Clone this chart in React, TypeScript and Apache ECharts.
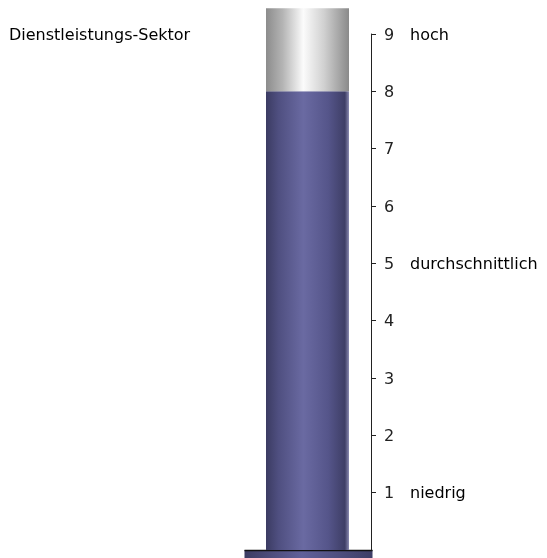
import React, { useEffect, useRef } from "react";
import * as echarts from "echarts";

const categories = ["Dienstleistungs-Sektor"];
const values = [8];
const tubeTop = [9.45];
const axisMin = 0;
const axisMax = 9;
const tickInterval = 1;
const tickValues = [1, 2, 3, 4, 5, 6, 7, 8, 9];
const levelValues = [1, 5, 9];
const levelLabels: Record<number, string> = { 1: "niedrig", 5: "durchschnittlich", 9: "hoch" };

const FONT = "DejaVu Sans";

export default function App() {
  const ref = useRef<HTMLDivElement>(null);
  useEffect(() => {
    if (!ref.current) return;
    const chart = echarts.init(ref.current, undefined, { renderer: "svg" });
    const blue = new echarts.graphic.LinearGradient(0, 0, 1, 0, [
      { offset: 0, color: "#3b3b62" },
      { offset: 0.15, color: "#4f4f80" },
      { offset: 0.45, color: "#6a6aa2" },
      { offset: 0.75, color: "#55558a" },
      { offset: 0.95, color: "#3e3e66" },
      { offset: 1, color: "#8a8ab0" },
    ]);
    const gray = new echarts.graphic.LinearGradient(0, 0, 1, 0, [
      { offset: 0, color: "#8c8c8c" },
      { offset: 0.2, color: "#b4b4b4" },
      { offset: 0.45, color: "#fbfbfb" },
      { offset: 0.7, color: "#d0d0d0" },
      { offset: 1, color: "#8a8a8a" },
    ]);
    const baseGrad = new echarts.graphic.LinearGradient(0, 0, 1, 0, [
      { offset: 0, color: "#3c3c62" },
      { offset: 0.45, color: "#60609a" },
      { offset: 1, color: "#3e3e66" },
    ]);
    chart.setOption({
      animation: false,
      title: {
        text: categories[0],
        left: 9,
        top: 26,
        padding: 0,
        textStyle: { fontFamily: FONT, fontSize: 16, fontWeight: "normal", color: "#000" },
      },
      grid: { left: 244, right: 176, top: 34, bottom: 8 },
      xAxis: { type: "category", data: categories, show: false },
      yAxis: [
        {
          type: "value",
          position: "right",
          min: axisMin,
          max: axisMax,
          interval: tickInterval,
          axisLine: { show: true, lineStyle: { color: "#222", width: 1 } },
          axisTick: { show: true, length: 5, customValues: tickValues, lineStyle: { color: "#222" } },
          splitLine: { show: false },
          axisLabel: {
            margin: 13,
            color: "#222",
            fontFamily: FONT,
            fontSize: 16,
            customValues: tickValues,
            formatter: (v: number) => String(v),
          },
        },
        {
          type: "value",
          position: "right",
          offset: 31,
          min: axisMin,
          max: axisMax,
          interval: tickInterval,
          axisLine: { show: false },
          axisTick: { show: false },
          splitLine: { show: false },
          axisLabel: {
            margin: 8,
            color: "#000",
            fontFamily: FONT,
            fontSize: 16,
            customValues: levelValues,
            formatter: (v: number) => levelLabels[v] || "",
          },
        },
      ],
      series: [
        {
          type: "bar",
          stack: "tube",
          data: values,
          barWidth: 83,
          clip: false,
          itemStyle: { color: blue },
        },
        {
          type: "bar",
          stack: "tube",
          data: values.map((v, i) => tubeTop[i] - v),
          barWidth: 83,
          clip: false,
          itemStyle: { color: gray },
        },
      ],
      graphic: [
        {
          type: "group",
          left: 242,
          top: 548,
          children: [
            { type: "rect", shape: { x: 0, y: 0, width: 128, height: 10 }, style: { fill: baseGrad } },
            { type: "line", shape: { x1: 0, y1: 0.5, x2: 128, y2: 0.5 }, style: { stroke: "#111", lineWidth: 1.5 } },
          ],
        },
      ],
    });
    return () => chart.dispose();
  }, []);
  return <div ref={ref} style={{ position: "fixed", left: 0, top: 0, width: 547, height: 558 }} />;
}
